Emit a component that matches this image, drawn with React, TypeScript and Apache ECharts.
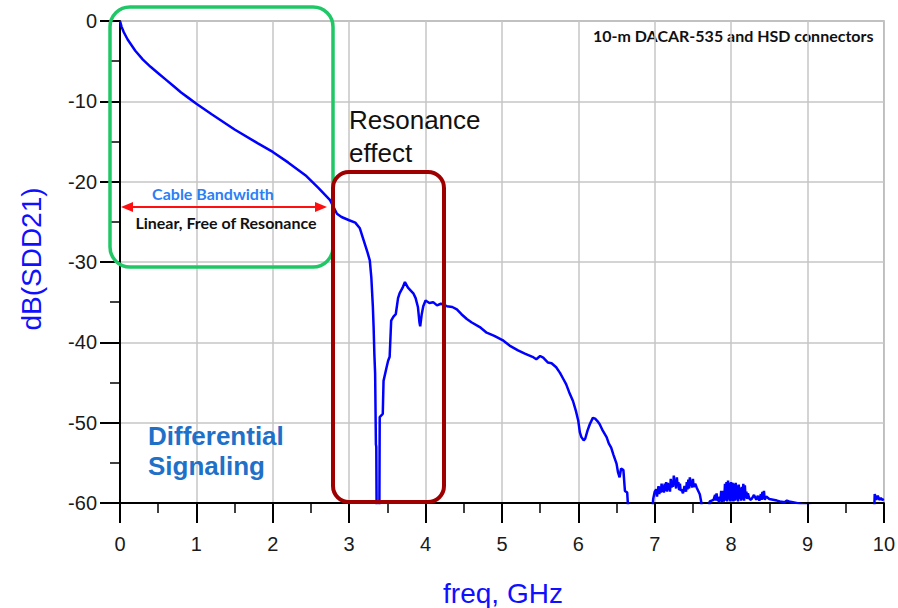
import React, { useEffect, useRef } from "react";
import * as echarts from "echarts";

// Differential insertion loss of a 10 m cable assembly (frequency in GHz, SDD21 in dB).
// Values below the -60 dB floor are clipped by the plot area.
const freqGHz = [
  0, 0.02, 0.05, 0.1, 0.2, 0.3, 0.4, 0.5, 0.6, 0.7, 0.8, 0.9, 1.0, 1.2, 1.5, 1.8, 2.0, 2.2, 2.44, 2.6,
  2.75, 2.84, 2.9, 3.0, 3.08, 3.14, 3.19, 3.24, 3.27, 3.29, 3.31, 3.32, 3.33, 3.34, 3.35, 3.355, 3.36, 3.395,
  3.4, 3.44, 3.45, 3.49, 3.51, 3.53, 3.55, 3.58, 3.61, 3.64, 3.66, 3.7, 3.73, 3.77, 3.8, 3.84, 3.87, 3.9,
  3.92, 3.93, 3.95, 3.97, 4.0, 4.05, 4.1, 4.15, 4.2, 4.28, 4.35, 4.41, 4.47, 4.54, 4.6, 4.71, 4.8, 4.9,
  5.02, 5.1, 5.21, 5.3, 5.4, 5.45, 5.5, 5.54, 5.6, 5.65, 5.71, 5.76, 5.8, 5.84, 5.88, 5.93, 5.97, 6.0,
  6.02, 6.04, 6.07, 6.09, 6.12, 6.15, 6.19, 6.22, 6.25, 6.28, 6.32, 6.37, 6.4, 6.43, 6.46, 6.5, 6.52, 6.54,
  6.56, 6.59, 6.61, 6.64, 6.66, 6.96, 6.98, 7.0, 7.02, 7.03, 7.04, 7.05, 7.06, 7.07, 7.08, 7.09, 7.1, 7.11,
  7.12, 7.13, 7.14, 7.15, 7.16, 7.17, 7.18, 7.19, 7.2, 7.21, 7.22, 7.23, 7.24, 7.25, 7.26, 7.27, 7.28,
  7.29, 7.3, 7.31, 7.32, 7.33, 7.34, 7.35, 7.37, 7.39, 7.41, 7.42, 7.43, 7.44, 7.45, 7.46, 7.47, 7.48,
  7.49, 7.5, 7.51, 7.53, 7.55, 7.57, 7.59, 7.61, 7.63, 7.7, 7.72, 7.77, 7.79, 7.8, 7.81, 7.82, 7.83,
  7.84, 7.85, 7.86, 7.87, 7.88, 7.89, 7.9, 7.91, 7.92, 7.93, 7.94, 7.95, 7.96, 7.97, 7.98, 7.99, 8.0,
  8.01, 8.02, 8.03, 8.04, 8.05, 8.06, 8.07, 8.08, 8.09, 8.1, 8.11, 8.12, 8.13, 8.14, 8.15, 8.16, 8.17,
  8.18, 8.19, 8.2, 8.21, 8.22, 8.23, 8.25, 8.27, 8.3, 8.33, 8.35, 8.37, 8.39, 8.4, 8.41, 8.42, 8.43,
  8.44, 8.46, 8.5, 8.55, 8.6, 8.64, 8.7, 8.73, 8.76, 9.86, 9.87, 9.88, 9.9, 9.92, 9.94, 9.96, 9.98, 10.0,
];

const sdd21dB = [
  0, -0.7, -1.4, -2.3, -3.7, -4.8, -5.7, -6.5, -7.3, -8.1, -8.9, -9.6, -10.3, -11.6, -13.5, -15.2, -16.3,
  -17.6, -19.3, -20.8, -22.3, -24.0, -24.4, -24.8, -25.1, -25.8, -27.3, -28.8, -29.8, -31.9, -35.5, -38.1,
  -41.5, -43.9, -52.7, -53.0, -62, -62, -49.3, -48.9, -44.8, -43.1, -42.3, -41.8, -37.3, -36.8, -36.5,
  -34.5, -33.9, -33.2, -32.5, -33.2, -33.5, -33.9, -34.5, -35.6, -37.5, -38.0, -36.5, -35.5, -34.8, -35.1,
  -35.0, -35.4, -35.2, -35.5, -35.6, -35.9, -36.5, -37.1, -37.5, -38.1, -38.8, -39.2, -39.8, -40.4, -41.0,
  -41.4, -41.8, -42.1, -41.7, -41.9, -42.5, -42.6, -43.1, -43.8, -44.5, -45.2, -46.2, -47.3, -48.6, -49.8,
  -51.2, -51.8, -52.2, -52.0, -51.0, -50.2, -49.4, -49.5, -49.8, -50.2, -51.0, -51.8, -52.6, -53.1, -54.0,
  -55.1, -56.2, -56.8, -55.7, -55.9, -58.5, -58.7, -62, -62, -59.5, -58.6, -58.3, -59.2, -58.4, -57.9,
  -58.9, -58.0, -58.7, -57.6, -58.6, -57.8, -58.7, -57.6, -58.5, -57.4, -58.6, -57.5, -58.4, -57.6, -58.6,
  -57.0, -58.1, -57.2, -58.0, -56.6, -57.8, -57.1, -58.2, -56.8, -57.9, -57.4, -58.4, -57.6, -58.5, -58.3,
  -58.8, -57.9, -58.6, -57.4, -58.3, -57.1, -58.2, -56.8, -57.9, -57.2, -58.1, -57.0, -58.0, -57.6,
  -58.1, -58.5, -58.9, -59.9, -62, -62, -59.8, -59.6, -59.0, -59.7, -58.8, -59.7, -59.5, -59.9, -59.2,
  -59.8, -58.5, -59.9, -58.5, -59.8, -59.6, -57.6, -59.7, -57.4, -59.8, -57.2, -59.6, -57.5, -59.8, -57.4,
  -59.7, -57.5, -59.8, -57.6, -59.7, -57.5, -59.6, -57.8, -59.8, -57.7, -59.5, -58.1, -59.7, -58.0, -59.6,
  -57.6, -59.7, -57.8, -59.4, -58.6, -59.5, -58.8, -59.2, -59.6, -59.5, -59.0, -59.6, -59.1, -59.7, -58.9,
  -59.6, -58.6, -59.5, -58.5, -59.6, -59.2, -59.5, -59.6, -59.7, -59.8, -59.9, -59.7, -59.8, -62, -62,
  -58.9, -59.6, -59.1, -59.6, -59.4, -59.6, -59.5, -59.6,
];

const xTicks = { min: 0, max: 10, interval: 1 };
const yTicks = { min: -60, max: 0, interval: 10 };

const AXIS_FONT = '"Liberation Sans", Arial, sans-serif';
const NOTE_FONT = 'Lato, "Noto Sans", sans-serif';

export default function App() {
  const ref = useRef<HTMLDivElement>(null);

  useEffect(() => {
    if (!ref.current) return;
    const chart = echarts.init(ref.current, null, { renderer: "svg" });
    const points = freqGHz.map((f, i) => [f, sdd21dB[i]]);

    chart.setOption({
      animation: false,
      backgroundColor: "#ffffff",
      grid: {
        left: 120,
        right: 14,
        top: 21,
        bottom: 105,
        show: true,
        borderColor: "#9a9a9a",
        borderWidth: 1.5,
        backgroundColor: "transparent",
      },
      xAxis: {
        type: "value",
        min: xTicks.min,
        max: xTicks.max,
        interval: xTicks.interval,
        axisLine: { show: true, onZero: false, lineStyle: { color: "#000", width: 2 } },
        axisTick: { show: true, inside: false, length: 20, lineStyle: { color: "#000", width: 2 } },
        minorTick: { show: true, splitNumber: 2, length: 10, lineStyle: { color: "#000", width: 1.5 } },
        axisLabel: { color: "#1a1a1a", fontSize: 20, fontFamily: AXIS_FONT, margin: 31 },
        splitLine: { show: true, lineStyle: { color: "#c6c6c6", width: 1.5 } },
      },
      yAxis: {
        type: "value",
        min: yTicks.min,
        max: yTicks.max,
        interval: yTicks.interval,
        axisLine: { show: true, onZero: false, lineStyle: { color: "#000", width: 2 } },
        axisTick: { show: true, inside: false, length: 20, lineStyle: { color: "#000", width: 2 } },
        minorTick: { show: true, splitNumber: 2, length: 10, lineStyle: { color: "#000", width: 1.5 } },
        axisLabel: { color: "#1a1a1a", fontSize: 20, fontFamily: AXIS_FONT, margin: 23 },
        splitLine: { show: true, lineStyle: { color: "#c6c6c6", width: 1.5 } },
      },
      series: [
        {
          type: "line",
          data: points,
          showSymbol: false,
          clip: true,
          smooth: false,
          lineStyle: { color: "#0000ff", width: 2.5 },
          z: 3,
        },
      ],
      graphic: [
        // axis titles
        {
          type: "text",
          x: 503,
          y: 593,
          style: {
            text: "freq, GHz",
            font: `28px ${AXIS_FONT}`,
            fill: "#1010ff",
            align: "center",
            verticalAlign: "middle",
          },
        },
        {
          type: "text",
          x: 31,
          y: 259,
          rotation: Math.PI / 2,
          style: {
            text: "dB(SDD21)",
            font: `28px ${AXIS_FONT}`,
            fill: "#1010ff",
            align: "center",
            verticalAlign: "middle",
          },
        },
        // header note
        {
          type: "text",
          x: 593,
          y: 35,
          style: {
            text: "10-m DACAR-535 and HSD connectors",
            font: `bold 16px ${NOTE_FONT}`,
            fill: "#111",
            align: "left",
            verticalAlign: "middle",
          },
        },
        // linear region highlight
        {
          type: "rect",
          shape: { x: 110, y: 7, width: 223, height: 260, r: 20 },
          style: { fill: "none", stroke: "#1fc766", lineWidth: 3.5 },
          z: 10,
        },
        {
          type: "text",
          x: 213,
          y: 193,
          z: 10,
          style: {
            text: "Cable Bandwidth",
            font: `bold 16px ${NOTE_FONT}`,
            fill: "#2b7ff5",
            align: "center",
            verticalAlign: "middle",
          },
        },
        {
          type: "line",
          shape: { x1: 130, y1: 207, x2: 316, y2: 207 },
          style: { stroke: "#ff1010", lineWidth: 2 },
          z: 10,
        },
        {
          type: "polygon",
          shape: { points: [[121, 207], [133, 202], [133, 212]] },
          style: { fill: "#ff1010" },
          z: 10,
        },
        {
          type: "polygon",
          shape: { points: [[327, 207], [315, 202], [315, 212]] },
          style: { fill: "#ff1010" },
          z: 10,
        },
        {
          type: "text",
          x: 226,
          y: 222,
          z: 10,
          style: {
            text: "Linear, Free of Resonance",
            font: `bold 16px ${NOTE_FONT}`,
            fill: "#111",
            align: "center",
            verticalAlign: "middle",
          },
        },
        // resonance highlight
        {
          type: "rect",
          shape: { x: 333, y: 172, width: 111, height: 330, r: 16 },
          style: { fill: "none", stroke: "#9e0000", lineWidth: 4 },
          z: 10,
        },
        {
          type: "text",
          x: 349,
          y: 136,
          z: 10,
          style: {
            text: "Resonance\neffect",
            font: `26px ${AXIS_FONT}`,
            fill: "#111",
            align: "left",
            verticalAlign: "middle",
            lineHeight: 33,
          },
        },
        {
          type: "text",
          x: 148,
          y: 451,
          z: 10,
          style: {
            text: "Differential\nSignaling",
            font: `bold 26px ${AXIS_FONT}`,
            fill: "#1f70c8",
            align: "left",
            verticalAlign: "middle",
            lineHeight: 30,
          },
        },
      ],
    });

    return () => chart.dispose();
  }, []);

  return (
    <div
      ref={ref}
      style={{ position: "fixed", left: 0, top: 0, width: 898, height: 608 }}
    />
  );
}
